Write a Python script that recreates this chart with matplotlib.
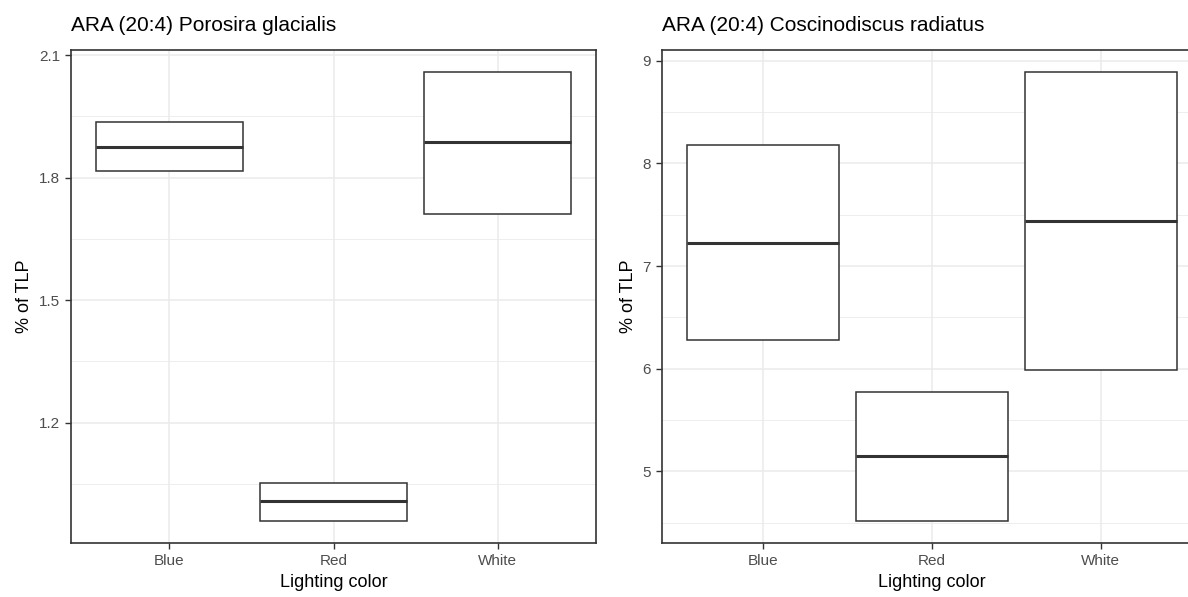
import matplotlib.pyplot as plt
import numpy as np

plt.rcParams['font.family'] = ['Liberation Sans', 'DejaVu Sans']

colors = ['Blue', 'Red', 'White']

# Porosira glacialis
pg_mid = [1.876, 1.007, 1.887]
pg_low = [1.816, 0.960, 1.712]
pg_high = [1.937, 1.053, 2.058]

# Coscinodiscus radiatus
cr_mid = [7.228, 5.145, 7.442]
cr_low = [6.277, 4.520, 5.990]
cr_high = [8.175, 5.769, 8.886]

fig = plt.figure(figsize=(11.88, 5.97), dpi=100)
ax1 = fig.add_axes([71 / 1188, 54 / 597, 525 / 1188, 493 / 597])
ax2 = fig.add_axes([662 / 1188, 54 / 597, 540 / 1188, 493 / 597])


def crossbar(ax, mid, low, high, title, yticks, yminor, ylabels):
    x = np.arange(1, len(colors) + 1)
    ax.set_axisbelow(True)
    ax.bar(x, np.array(high) - np.array(low), bottom=low, width=0.9,
           color='white', edgecolor='#333333', linewidth=1.1, zorder=3)
    ax.hlines(mid, x - 0.45, x + 0.45, color='#333333', linewidth=2.2, zorder=4)
    lo = min(low)
    hi = max(high)
    pad = (hi - lo) * 0.05
    ax.set_ylim(lo - pad, hi + pad)
    ax.set_xlim(0.4, len(colors) + 0.6)
    ax.set_xticks(x)
    ax.set_xticklabels(colors)
    ax.set_yticks(yticks)
    ax.set_yticklabels(ylabels)
    ax.set_yticks(yminor, minor=True)
    ax.grid(True, which='major', color='#EBEBEB', linewidth=1.1)
    ax.grid(True, which='minor', axis='y', color='#EBEBEB', linewidth=0.6)
    ax.tick_params(which='minor', left=False)
    ax.tick_params(which='major', length=4, width=1, color='#333333',
                   labelcolor='#4D4D4D', labelsize=11, pad=4)
    for s in ax.spines.values():
        s.set_color('#333333')
        s.set_linewidth(1.2)
    ax.set_xlabel('Lighting color', fontsize=13, labelpad=4)
    ax.set_ylabel('% of TLP', fontsize=13, labelpad=4)
    ax.set_title(title, loc='left', fontsize=15, pad=14)


crossbar(ax1, pg_mid, pg_low, pg_high, 'ARA (20:4) Porosira glacialis',
         [1.2, 1.5, 1.8, 2.1], [1.05, 1.35, 1.65, 1.95],
         ['1.2', '1.5', '1.8', '2.1'])
crossbar(ax2, cr_mid, cr_low, cr_high, 'ARA (20:4) Coscinodiscus radiatus',
         [5, 6, 7, 8, 9], [4.5, 5.5, 6.5, 7.5, 8.5],
         ['5', '6', '7', '8', '9'])

fig.savefig('out.png', dpi=100)
